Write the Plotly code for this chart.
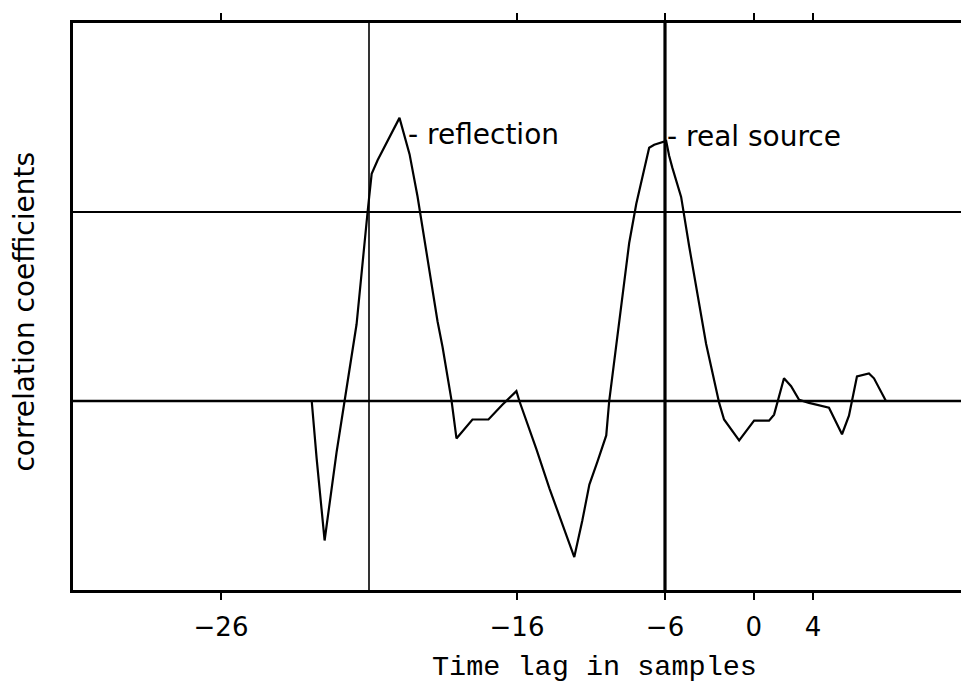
import plotly.graph_objects as go

# Curve samples (time lag, correlation coefficient)
lag = [-29.87, -29.54, -29.0, -28.66, -28.19, -27.65, -26.84, -26.09, -25.82, -25.42,
       -23.94, -23.26, -22.72, -21.37, -21.03, -20.43, -20.09, -19.01, -17.93, -16.99,
       -16.04, -15.84, -14.69, -13.81, -12.13, -11.59, -11.11, -10.57, -9.97, -9.77,
       -9.30, -8.42, -7.94, -7.07, -6.73, -5.92, -5.72, -5.51, -4.91, -4.37,
       -3.22, -2.34, -2.01, -0.99, 0.02, 1.03, 1.37, 2.04, 2.52, 3.06,
       3.73, 5.08, 5.96, 6.43, 6.97, 7.78, 8.12, 8.93]
corr = [0.0, -0.151, -0.369, -0.265, -0.135, 0.0, 0.203, 0.502, 0.601, 0.637,
        0.749, 0.653, 0.541, 0.211, 0.143, 0.003, -0.099, -0.049, -0.049, -0.010,
        0.026, 0.0, -0.127, -0.231, -0.413, -0.317, -0.221, -0.161, -0.091, 0.0,
        0.151, 0.418, 0.522, 0.670, 0.678, 0.688, 0.649, 0.618, 0.540, 0.410,
        0.151, -0.005, -0.049, -0.104, -0.052, -0.052, -0.036, 0.060, 0.039, 0.003,
        -0.005, -0.018, -0.088, -0.039, 0.065, 0.073, 0.060, 0.0]

# Axis ticks (labels as printed in the reference)
x_tickvals = [-36, -16, -6, 0, 4]
x_ticktext = ["\u221226", "\u221216", "\u22126", "0", "4"]
x_range = [-46, 14]
y_range = [-0.5, 1.0]

# Reference grid lines
vgrid = [-26, -6]
vgrid_width = [1.6, 3.2]
hgrid = [0.0, 0.5]
hgrid_width = [2.6, 2.2]

# Labels
labels = ["- reflection", "- real source"]
label_x = [-23.50, -5.98]
label_y = [0.705, 0.699]

fig = go.Figure()
fig.add_trace(go.Scatter(x=lag, y=corr, mode="lines",
                         line=dict(color="black", width=2.2), showlegend=False,
                         hoverinfo="skip"))

for xv, w in zip(vgrid, vgrid_width):
    fig.add_shape(type="line", xref="x", yref="y", x0=xv, x1=xv,
                  y0=y_range[0], y1=y_range[1], line=dict(color="black", width=w))
for yv, w in zip(hgrid, hgrid_width):
    fig.add_shape(type="line", xref="x", yref="y", x0=x_range[0], x1=x_range[1],
                  y0=yv, y1=yv, line=dict(color="black", width=w))

for t, xv, yv in zip(labels, label_x, label_y):
    fig.add_annotation(x=xv, y=yv, text=t, showarrow=False, xanchor="left",
                       yanchor="middle",
                       font=dict(family="DejaVu Sans", size=28, color="black"))

fig.add_annotation(xref="paper", yref="paper", x=0, y=0.491, xshift=-48,
                   text="correlation coefficients", textangle=-90, showarrow=False,
                   xanchor="center", yanchor="middle",
                   font=dict(family="DejaVu Sans", size=28, color="black"))

# X-axis title sits right of centre in the reference
fig.add_annotation(xref="paper", yref="paper", x=0.587, y=0, yshift=-77,
                   text="Time lag in samples", showarrow=False,
                   xanchor="center", yanchor="middle",
                   font=dict(family="Liberation Mono", size=28.5, color="black"))

# The page body adds an 8 px offset; sizes/margins compensate for it.
fig.update_layout(
    width=961, height=680,
    margin=dict(l=65, r=7, t=5, b=98),
    paper_bgcolor="white", plot_bgcolor="white",
    xaxis=dict(range=x_range, tickvals=x_tickvals, ticktext=x_ticktext,
               showgrid=False, zeroline=False, showline=True, linecolor="black",
               linewidth=2.5, mirror="ticks", ticks="outside", ticklen=7,
               tickwidth=2, tickcolor="black", ticklabelstandoff=5,
               tickfont=dict(family="DejaVu Sans", size=26, color="black")),
    yaxis=dict(range=y_range, showgrid=False, zeroline=False, showline=True,
               linecolor="black", linewidth=2.5, mirror=True, showticklabels=False,
               ticks=""),
)

fig.write_html("out.html")
